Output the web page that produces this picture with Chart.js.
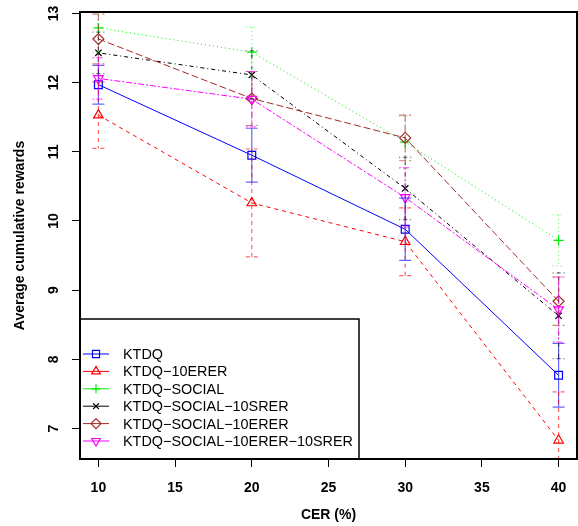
<!DOCTYPE html>
<html>
<head>
<meta charset="utf-8">
<script src="https://cdn.jsdelivr.net/npm/chart.js@4/dist/chart.umd.min.js"></script>
<style>
  html, body { margin: 0; padding: 0; background: #fff; }
  #wrap { width: 578px; height: 526px; position: relative; }
</style>
</head>
<body>
<div id="wrap"><canvas id="c" width="578" height="526"></canvas></div>
<script>
// ---- data ----
const cer = [10, 20, 30, 40];
const xTicks = [10, 15, 20, 25, 30, 35, 40];
const yTicks = [7, 8, 9, 10, 11, 12, 13];

const seriesNames = [
  "KTDQ",
  "KTDQ\u221210ERER",
  "KTDQ\u2212SOCIAL",
  "KTDQ\u2212SOCIAL\u221210SRER",
  "KTDQ\u2212SOCIAL\u221210ERER",
  "KTDQ\u2212SOCIAL\u221210ERER\u221210SRER"
];

const ktdq             = [11.97, 10.95, 9.88, 7.77];
const ktdq10erer       = [11.53, 10.26, 9.70, 6.83];
const ktdqSocial       = [12.79, 12.44, 11.14, 9.72];
const ktdqSocial10srer = [12.43, 12.11, 10.47, 8.63];
const ktdqSocial10erer = [12.63, 11.77, 11.20, 8.84];
const ktdqSocialBoth   = [12.06, 11.76, 10.34, 8.72];

const ktdqErr             = [0.28, 0.39, 0.45, 0.46];
const ktdq10ererErr       = [0.48, 0.78, 0.49, 0.70];
const ktdqSocialErr       = [0.36, 0.36, 0.38, 0.37];
const ktdqSocial10srerErr = [0.30, 0.35, 0.45, 0.62];
const ktdqSocial10ererErr = [0.36, 0.39, 0.33, 0.35];
const ktdqSocialBothErr   = [0.30, 0.40, 0.43, 0.47];

// ---- styles ----
const values = [ktdq, ktdq10erer, ktdqSocial, ktdqSocial10srer, ktdqSocial10erer, ktdqSocialBoth];
const errors = [ktdqErr, ktdq10ererErr, ktdqSocialErr, ktdqSocial10srerErr, ktdqSocial10ererErr, ktdqSocialBothErr];
const colors = ["#0000FF", "#FF0000", "#00EE00", "#000000", "#A52A2A", "#FF00FF"];
const errColors = ["rgba(0,0,255,0.6)", "rgba(255,0,0,0.6)", "rgba(0,238,0,0.6)", "rgba(0,0,0,0.6)", "rgba(165,42,42,0.6)", "rgba(255,0,255,0.6)"];
const dashes = [[], [4, 4], [1, 3], [1, 3, 4, 3], [7, 3], [2, 2, 6, 2]];
const pStyles = ["rect", "triangle", "cross", "crossRot", "rectRot", "triangle"];
const pRot = [0, 0, 0, 0, 0, 180];
const pRad = [5.5, 5.5, 5, 4.5, 5.5, 5.5];

const datasets = values.map((vals, i) => ({
  label: seriesNames[i],
  data: cer.map((x, j) => ({ x: x, y: vals[j] })),
  borderColor: colors[i],
  backgroundColor: "rgba(0,0,0,0)",
  borderWidth: 1,
  borderDash: dashes[i],
  pointStyle: pStyles[i],
  pointRotation: pRot[i],
  pointRadius: pRad[i],
  pointBorderColor: colors[i],
  pointBackgroundColor: "rgba(0,0,0,0)",
  pointBorderWidth: 1.2,
  fill: false,
  tension: 0,
  order: 6 - i,
  clip: 0
}));

const tickFont = "bold 14px 'Liberation Sans', Arial, sans-serif";
const legendFont = "14.4px 'Liberation Sans', Arial, sans-serif";

const extras = {
  id: "extras",
  afterDatasetsDraw(chart) {
    const ctx = chart.ctx;
    const xs = chart.scales.x, ys = chart.scales.y;
    const a = chart.chartArea;
    // error bars
    ctx.save();
    ctx.beginPath();
    ctx.rect(a.left, a.top, a.right - a.left, a.bottom - a.top);
    ctx.clip();
    values.forEach((vals, i) => {
      ctx.strokeStyle = errColors[i];
      ctx.lineWidth = 1.2;
      ctx.setLineDash(dashes[i]);
      vals.forEach((v, j) => {
        const px = xs.getPixelForValue(cer[j]);
        const pt = ys.getPixelForValue(v + errors[i][j]);
        const pb = ys.getPixelForValue(v - errors[i][j]);
        ctx.beginPath();
        ctx.moveTo(px, pt); ctx.lineTo(px, pb);
        ctx.moveTo(px - 6, pt); ctx.lineTo(px + 6, pt);
        ctx.moveTo(px - 6, pb); ctx.lineTo(px + 6, pb);
        ctx.stroke();
      });
    });
    ctx.restore();
  },
  afterDraw(chart) {
    const ctx = chart.ctx;
    const ys = chart.scales.y;
    const a = chart.chartArea;
    ctx.save();
    // y tick labels, rotated
    ctx.fillStyle = "#000";
    ctx.font = tickFont;
    ctx.textAlign = "center";
    ctx.textBaseline = "middle";
    yTicks.forEach(v => {
      const py = ys.getPixelForValue(v);
      ctx.save();
      ctx.translate(54, py);
      ctx.rotate(-Math.PI / 2);
      ctx.fillText(String(v), 0, 0);
      ctx.restore();
    });
    // legend
    const lx = a.left, ly = 319, lw = 359 - a.left, lh = a.bottom - 319;
    ctx.fillStyle = "#fff";
    ctx.fillRect(lx, ly, lw, lh);
    ctx.strokeStyle = "#000";
    ctx.lineWidth = 1.5;
    ctx.setLineDash([]);
    ctx.strokeRect(lx, ly, lw, lh);
    ctx.font = legendFont;
    ctx.textAlign = "left";
    ctx.textBaseline = "middle";
    seriesNames.forEach((name, i) => {
      const yy = 354 + i * 17.4;
      ctx.strokeStyle = colors[i];
      ctx.lineWidth = 1;
      ctx.setLineDash([]);
      ctx.beginPath();
      ctx.moveTo(83, yy); ctx.lineTo(109, yy);
      ctx.stroke();
      ctx.lineWidth = 1.2;
      ctx.fillStyle = "rgba(0,0,0,0)";
      Chart.helpers.drawPoint(ctx, { pointStyle: pStyles[i], rotation: pRot[i], radius: pRad[i] - 0.5, borderWidth: 1.2 }, 96, yy);
      ctx.fillStyle = "#000";
      ctx.fillText(name, 123, yy + 1);
    });
    // frame
    ctx.strokeStyle = "#000";
    ctx.lineWidth = 2;
    ctx.setLineDash([]);
    ctx.strokeRect(a.left, a.top, a.right - a.left, a.bottom - a.top);
    ctx.restore();
  }
};

new Chart(document.getElementById("c"), {
  type: "line",
  data: { datasets: datasets },
  options: {
    responsive: false,
    animation: false,
    devicePixelRatio: 1,
    layout: { autoPadding: false, padding: { top: 12, right: 1, left: 0, bottom: 0 } },
    plugins: { legend: { display: false }, tooltip: { enabled: false } },
    scales: {
      x: {
        type: "linear",
        min: 8.8,
        max: 41.2,
        afterBuildTicks: s => { s.ticks = xTicks.map(v => ({ value: v })); },
        afterFit: s => { s.height = 67; s.paddingRight = 0; s.paddingLeft = 0; },
        grid: { drawOnChartArea: false, drawTicks: true, tickLength: 8, color: "#000", lineWidth: 1 },
        border: { display: false },
        ticks: { color: "#000", font: { family: "'Liberation Sans', Arial, sans-serif", size: 14, weight: "bold" }, padding: 13, maxRotation: 0 },
        title: { display: true, text: "CER (%)", color: "#000", font: { family: "'Liberation Sans', Arial, sans-serif", size: 14, weight: "bold" }, padding: { top: 0, bottom: 2 } }
      },
      y: {
        type: "linear",
        min: 6.56,
        max: 13.02,
        afterBuildTicks: s => { s.ticks = yTicks.map(v => ({ value: v })); },
        afterFit: s => { s.width = 80; },
        grid: { drawOnChartArea: false, drawTicks: true, tickLength: 8, color: "#000", lineWidth: 1 },
        border: { display: false },
        ticks: { display: false },
        title: { display: true, text: "Average cumulative rewards", color: "#000", font: { family: "'Liberation Sans', Arial, sans-serif", size: 14, weight: "bold" }, padding: { top: 12, bottom: 0 } }
      }
    }
  },
  plugins: [extras]
});
</script>
</body>
</html>
